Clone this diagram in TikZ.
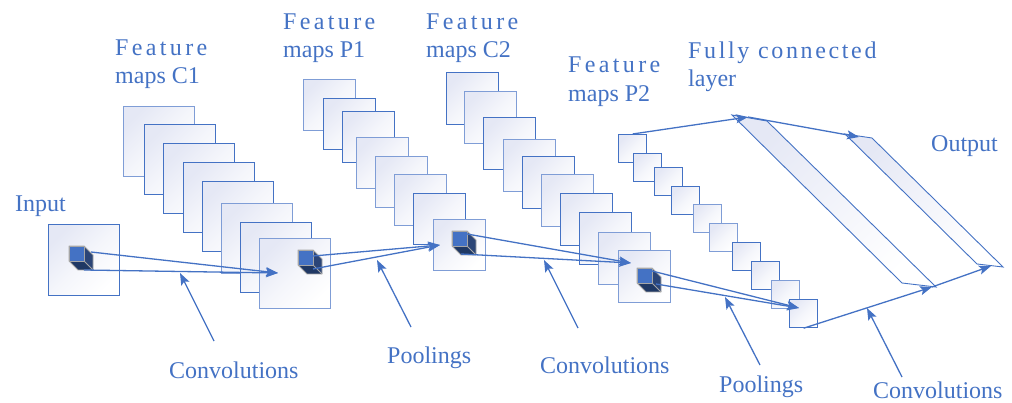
\documentclass[tikz,border=0pt]{standalone}
\usepackage{fontspec}
\setmainfont{Liberation Serif}
\newfontfamily\trackwide[LetterSpace=14]{Liberation Serif}
\newfontfamily\tracknarrow[LetterSpace=11]{Liberation Serif}
\usetikzlibrary{arrows.meta}

\definecolor{ink}{HTML}{4472C4}
\definecolor{inklight}{HTML}{7F9DD6}
\definecolor{haze}{RGB}{229,232,245}
\definecolor{cubeside}{HTML}{2B4577}
\definecolor{cubebot}{HTML}{1F3864}
\definecolor{cubeedge}{HTML}{A6A6A6}

\tikzset{
  lbl/.style={anchor=base west, inner sep=0pt, text=ink,
    font=\fontsize{24}{28}\selectfont},
  lblwide/.style={lbl, font=\trackwide\fontsize{24}{28}\selectfont},
  lblnarrow/.style={lbl, font=\tracknarrow\fontsize{24}{28}\selectfont},
  fmap/.style={draw=ink, line width=1.2pt, anchor=north west, inner sep=0pt,
    top color=haze, bottom color=white, middle color=white!60!haze,
    shading angle=45},
  fa/.style={draw=inklight},
  fb/.style={draw=ink},
  fcband/.style={draw=ink, line width=0.9pt, top color=haze, bottom color=white,
    shading angle=45},
  conn/.style={draw=ink, line width=1.3pt,
    -{Stealth[length=12pt, width=9pt, inset=2.5pt]}},
  pics/cube/.style={code={
    \fill[cubebot] (0,15) -- (15,15) -- (24,24) -- (9,24) -- cycle;
    \fill[cubeside] (15,0) -- (24,9) -- (24,24) -- (15,15) -- cycle;
    \draw[cubeedge, line width=0.8pt, line join=round]
      (0,0) -- (15,0) -- (24,9) -- (24,24) -- (9,24) -- (0,15) -- cycle;
    \draw[cubeedge, line width=0.8pt] (15,15) -- (24,24);
    \fill[ink] (0,0) rectangle (15,15);
    \draw[cubeedge, line width=0.8pt] (0,0) rectangle (15,15);
  }}
}

\begin{document}
\begin{tikzpicture}[x=1pt, y=-1pt]
\useasboundingbox (0,0) rectangle (1012,403);

% input image
\node[fmap, fb, minimum width=71pt, minimum height=71pt] (inp) at (48,224) {};

% feature maps C1
\foreach \x/\y/\s [count=\i] in {123/106/fa, 144/124/fb, 163/143/fb, 183/162/fb,
    202/181/fb, 221/203/fa, 240/222/fb, 259/238/fa}
  \node[fmap, \s, minimum width=71pt, minimum height=70pt] (c1-\i) at (\x,\y) {};

% feature maps P1
\foreach \x/\y/\s [count=\i] in {303/79/fa, 323/98/fb, 342/111/fb, 356/137/fa,
    375/156/fa, 394/174/fa, 413/193/fb, 433/219/fa}
  \node[fmap, \s, minimum width=52pt, minimum height=51pt] (p1-\i) at (\x,\y) {};

% feature maps C2
\foreach \x/\y/\s [count=\i] in {446/72/fb, 464/91/fa, 483/117/fb, 503/139/fa,
    522/156/fb, 541/174/fa, 560/193/fb, 579/212/fb, 598/232/fa, 618/250/fa}
  \node[fmap, \s, minimum width=52pt, minimum height=52pt] (c2-\i) at (\x,\y) {};

% feature maps P2
\foreach \x/\y/\s [count=\i] in {618/134/fb, 633/153/fb, 654/167/fb, 671/186/fb,
    693/204/fa, 709/223/fa, 732/242/fb, 751/261/fb, 771/280/fa, 789/299/fb}
  \node[fmap, \s, minimum width=28pt, minimum height=28pt] (p2-\i) at (\x,\y) {};

% fully connected layer and output
\coordinate (f1a) at (732,115);
\coordinate (f1b) at (767,121);
\coordinate (f1c) at (936,287);
\coordinate (f1d) at (902,283);
\path[fcband] (f1a) -- (f1b) -- (f1c) -- (f1d) -- cycle;
\coordinate (f2a) at (845,134);
\coordinate (f2b) at (872,138);
\coordinate (f2c) at (1003,267);
\coordinate (f2d) at (977,264);
\path[fcband] (f2a) -- (f2b) -- (f2c) -- (f2d) -- cycle;

% receptive-field cubes
\pic at (69,246) {cube};
\pic at (298,250) {cube};
\pic at (452,231) {cube};
\pic at (637,268) {cube};

% connector end points
\coordinate (in-a) at (91,252);
\coordinate (in-b) at (84,270);
\coordinate (c1-tip) at (278,273);
\coordinate (c1-a) at (313,256);
\coordinate (c1-b) at (313,269);
\coordinate (p1-tip) at (440,245);
\coordinate (p1-a) at (467,234);
\coordinate (p1-b) at (461,254);
\coordinate (c2-tip) at (631,263);
\coordinate (c2-a) at (652,271);
\coordinate (c2-b) at (656,284);
\coordinate (p2-tip) at (799,308);
\coordinate (fc1-top) at (748,117);
\coordinate (fc2-top) at (859,137);
\coordinate (fc1-bot) at (932,287);
\coordinate (out-tip) at (991,266);

\draw[conn] (in-a) -- (c1-tip);
\draw[conn] (in-b) -- (c1-tip);
\draw[conn] (c1-a) -- (p1-tip);
\draw[conn] (c1-b) -- (p1-tip);
\draw[conn] (p1-a) -- (c2-tip);
\draw[conn] (p1-b) -- (c2-tip);
\draw[conn] (c2-a) -- (p2-tip);
\draw[conn] (c2-b) -- (p2-tip);
\draw[conn] (p2-1.north) -- (fc1-top);
\draw[conn] (fc1-top) -- (fc2-top);
\draw[conn] (p2-10.south) -- (fc1-bot);
\draw[conn] (fc1-bot) -- (out-tip);

% titles
\node[lbl] (t-in) at (15,212) {Input};
\node[lblwide] (t-c1a) at (115,56) {Feature};
\node[lbl] (t-c1b) at (115,84) {maps C1};
\node[lblwide] (t-p1a) at (283,30) {Feature};
\node[lbl] (t-p1b) at (283,58) {maps P1};
\node[lblwide] (t-c2a) at (426,30) {Feature};
\node[lbl] (t-c2b) at (426,58) {maps C2};
\node[lblwide] (t-p2a) at (568,73) {Feature};
\node[lbl] (t-p2b) at (568,102) {maps P2};
\node[lblnarrow] (t-fca) at (688,59) {Fully connected};
\node[lbl] (t-fcb) at (688,87) {layer};
\node[lbl] (t-out) at (931,152) {Output};

% operation labels with pointers
\node[lbl] (op1) at (169,378) {Convolutions};
\node[lbl] (op2) at (387,363) {Poolings};
\node[lbl] (op3) at (540,373) {Convolutions};
\node[lbl] (op4) at (719,392) {Poolings};
\node[lbl] (op5) at (873,398) {Convolutions};

\coordinate (op1-s) at (214,341);
\coordinate (op1-e) at (180,273);
\coordinate (op2-s) at (411,327);
\coordinate (op2-e) at (377,260);
\coordinate (op3-s) at (578,328);
\coordinate (op3-e) at (544,260);
\coordinate (op4-s) at (760,365);
\coordinate (op4-e) at (725,297);
\coordinate (op5-s) at (902,377);
\coordinate (op5-e) at (867,308);

\draw[conn] (op1-s) -- (op1-e);
\draw[conn] (op2-s) -- (op2-e);
\draw[conn] (op3-s) -- (op3-e);
\draw[conn] (op4-s) -- (op4-e);
\draw[conn] (op5-s) -- (op5-e);
\end{tikzpicture}
\end{document}
